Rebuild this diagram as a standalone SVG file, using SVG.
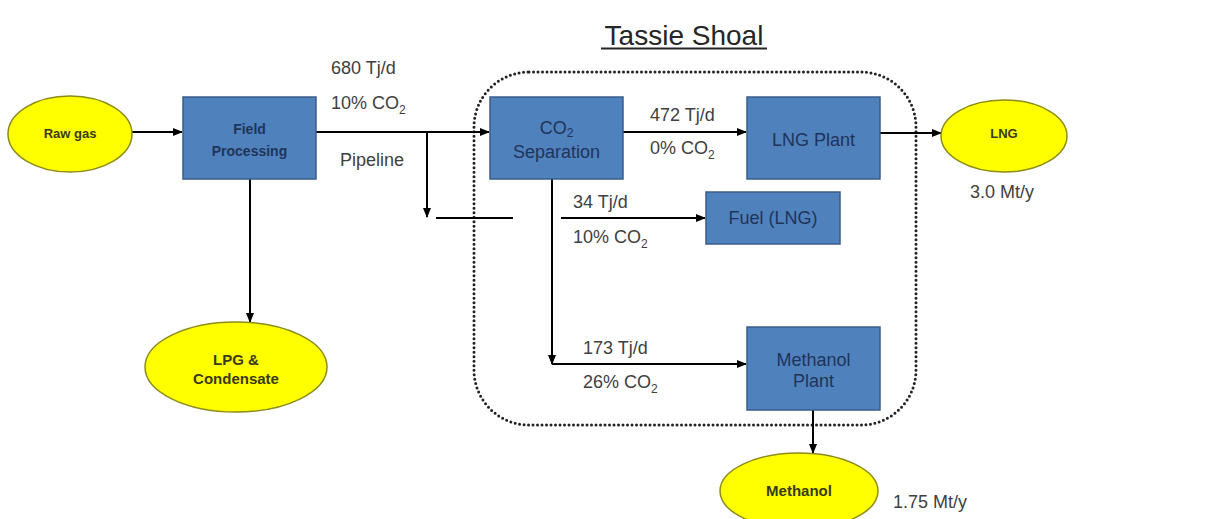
<svg xmlns="http://www.w3.org/2000/svg" width="1224" height="519" viewBox="0 0 1224 519">
<defs>
<marker id="arr" markerWidth="10" markerHeight="8" refX="9" refY="4" orient="auto" markerUnits="userSpaceOnUse">
<path d="M0,0 L10,4 L0,8 z" fill="#000"/>
</marker>
<style>
.box{fill:#4F81BD;stroke:#385D8A;stroke-width:1.5}
.ell{fill:#FFFF00;stroke:#8C8C1A;stroke-width:1.5}
.bt{font-family:"Liberation Sans",Arial,sans-serif;font-size:18px;fill:#1F3458;text-anchor:middle}
.btb{font-family:"Liberation Sans",Arial,sans-serif;font-size:14px;font-weight:bold;fill:#1F3458;text-anchor:middle}
.et{font-family:"Liberation Sans",Arial,sans-serif;font-size:13px;font-weight:bold;fill:#3A3A1A;text-anchor:middle}
.lb{font-family:"Liberation Sans",Arial,sans-serif;font-size:18px;fill:#404040}
.sub{font-size:12px}
.ln{stroke:#000;stroke-width:2;fill:none}
</style>
</defs>
<rect width="1224" height="519" fill="#fff"/>

<text x="684" y="45" font-family="Liberation Sans,Arial,sans-serif" font-size="28" fill="#262626" text-anchor="middle">Tassie Shoal</text>
<line x1="601" y1="48.5" x2="767" y2="48.5" stroke="#262626" stroke-width="2"/>

<rect x="474" y="72" width="442" height="353" rx="55" ry="55" fill="none" stroke="#222" stroke-width="3" stroke-dasharray="0 4.5" stroke-linecap="round"/>

<g id="connectors">
<line class="ln" x1="132" y1="132" x2="182" y2="132" marker-end="url(#arr)"/>
<line class="ln" x1="316" y1="132" x2="489" y2="132" marker-end="url(#arr)"/>
<line class="ln" x1="427" y1="132" x2="427" y2="217" marker-end="url(#arr)"/>
<line class="ln" x1="436" y1="218" x2="513" y2="218"/>
<line class="ln" x1="250" y1="179" x2="250" y2="322" marker-end="url(#arr)"/>
<line class="ln" x1="623" y1="132" x2="746" y2="132" marker-end="url(#arr)"/>
<line class="ln" x1="880" y1="133" x2="941" y2="133" marker-end="url(#arr)"/>
<line class="ln" x1="552" y1="179" x2="552" y2="364" marker-end="url(#arr)"/>
<line class="ln" x1="552" y1="364" x2="746" y2="364" marker-end="url(#arr)"/>
<line class="ln" x1="561" y1="218" x2="705" y2="218" marker-end="url(#arr)"/>
<line class="ln" x1="813" y1="410" x2="813" y2="453" marker-end="url(#arr)"/>
</g>

<g id="raw-gas">
<ellipse class="ell" cx="70" cy="134" rx="62" ry="38"/>
<text class="et" x="70" y="138">Raw gas</text>
</g>

<g id="field-processing">
<rect class="box" x="183" y="97" width="133" height="82"/>
<text class="btb" x="249.5" y="134">Field</text>
<text class="btb" x="249.5" y="156">Processing</text>
</g>

<g id="lpg">
<ellipse class="ell" cx="236" cy="367" rx="91" ry="45"/>
<text class="et" x="236" y="365" style="font-size:15px">LPG &amp;</text>
<text class="et" x="236" y="384" style="font-size:15px">Condensate</text>
</g>

<g id="co2-separation">
<rect class="box" x="490" y="97" width="133" height="82"/>
<text class="bt" x="556.5" y="134">CO<tspan class="sub" dy="3">2</tspan></text>
<text class="bt" x="556.5" y="158">Separation</text>
</g>

<g id="lng-plant">
<rect class="box" x="747" y="97" width="133" height="82"/>
<text class="bt" x="813.5" y="146">LNG Plant</text>
</g>

<g id="fuel-lng">
<rect class="box" x="706" y="192" width="134" height="52"/>
<text class="bt" x="773" y="224">Fuel (LNG)</text>
</g>

<g id="methanol-plant">
<rect class="box" x="747" y="327" width="133" height="83"/>
<text class="bt" x="813.5" y="366">Methanol</text>
<text class="bt" x="813.5" y="387">Plant</text>
</g>

<g id="lng">
<ellipse class="ell" cx="1004" cy="136" rx="63" ry="36"/>
<text class="et" x="1004" y="138">LNG</text>
</g>

<g id="methanol">
<ellipse class="ell" cx="799" cy="491" rx="79" ry="38"/>
<text class="et" x="799" y="496" style="font-size:15px">Methanol</text>
</g>

<g id="labels">
<text class="lb" x="331" y="74">680 Tj/d</text>
<text class="lb" x="331" y="109">10% CO<tspan class="sub" dy="5">2</tspan></text>
<text class="lb" x="340" y="166">Pipeline</text>
<text class="lb" x="650" y="121">472 Tj/d</text>
<text class="lb" x="650" y="154">0% CO<tspan class="sub" dy="5">2</tspan></text>
<text class="lb" x="573" y="208">34 Tj/d</text>
<text class="lb" x="573" y="243">10% CO<tspan class="sub" dy="5">2</tspan></text>
<text class="lb" x="583" y="354">173 Tj/d</text>
<text class="lb" x="583" y="388">26% CO<tspan class="sub" dy="5">2</tspan></text>
<text class="lb" x="970" y="198">3.0 Mt/y</text>
<text class="lb" x="893" y="508">1.75 Mt/y</text>
</g>
</svg>
